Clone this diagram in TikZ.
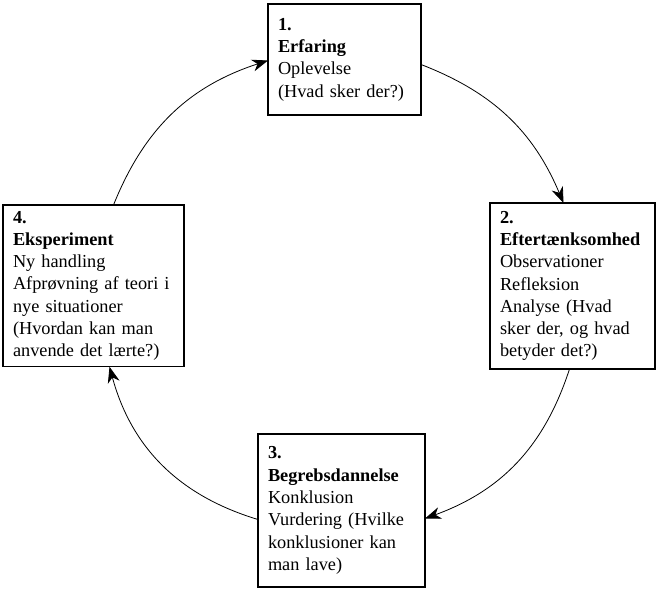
\documentclass[tikz,border=0pt]{standalone}
\usepackage{fontspec}
\setmainfont{Liberation Serif}
\usepackage{tikz}
\usetikzlibrary{arrows.meta}
\usetikzlibrary{calc}

\begin{document}
\begin{tikzpicture}[x=1pt, y=-1pt, outer sep = 0pt]
          \newcommand{\boxxsep}{10pt}
          \newcommand{\boxysep}{6pt}
          
          \tikzstyle{fase}=[
            draw,
            rectangle,
            line width=1.2pt,
            inner xsep=\boxxsep,
            inner ysep=\boxysep,
            anchor=north west,
            align=left,
            font=\fontsize{18.3}{22.3}\selectfont
          ]
          \tikzstyle{arrow} = [line width=0.8pt, -{Stealth[length=16pt,width=12pt,inset=5pt]}, draw=black]
          
          \useasboundingbox (0,0) rectangle (663,596);
          
          % the four phases
          \node[fase, minimum width=153pt, minimum height=111pt, text width=133pt] (erfaring) at (268,4)
            {\textbf{1.}\\\textbf{Erfaring}\\Oplevelse\\(Hvad sker der?)};
          \node[fase, minimum width=165pt, minimum height=166pt, text width=145pt] (eftertanke) at (490,203)
            {\textbf{2.}\\\textbf{Eftertænksomhed}\\Observationer\\Refleksion\\Analyse (Hvad\\sker der, og hvad\\betyder det?)};
          \node[fase, minimum width=167pt, minimum height=153pt, text width=147pt] (begreb) at (258,434)
            {\textbf{3.}\\\textbf{Begrebsdannelse}\\Konklusion\\Vurdering (Hvilke\\konklusioner kan\\man lave)};
          \node[fase, minimum width=181pt, minimum height=142pt, text width=161pt] (eksperiment) at (3,205)
            {\textbf{4.}\\\textbf{Eksperiment}\\Ny handling\\Afprøvning af teori i\\nye situationer\\(Hvordan kan man\\anvende det lærte?)};
          
          % the cycle
          \draw[arrow] ([yshift=-5pt] erfaring.east) to[bend left=23] ([xshift=-9pt] eftertanke.north);
          \draw[arrow] ([xshift=-3pt] eftertanke.south) to[bend left=26] ([yshift=-8pt] begreb.east);
          \draw[arrow] ([yshift=-9pt] begreb.west) to[bend left=29] ([xshift=16pt] eksperiment.south);
          \draw[arrow] ([xshift=20pt] eksperiment.north) to[bend left=25] ([yshift=-1pt] erfaring.west);
          
        \end{tikzpicture}
\end{document}
